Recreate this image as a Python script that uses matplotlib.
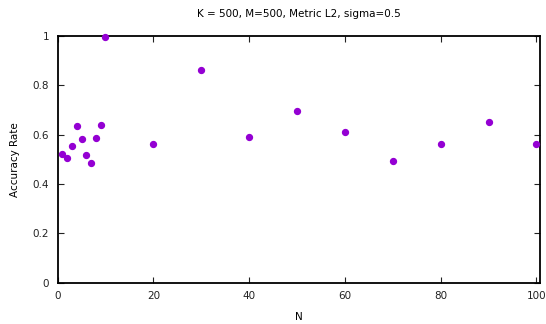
import matplotlib
matplotlib.use("Agg")
import matplotlib.pyplot as plt
import numpy as np

# data
n_values = [1, 2, 3, 4, 5, 6, 7, 8, 9, 10, 20, 30, 40, 50, 60, 70, 80, 90, 100]
accuracy = [0.522, 0.506, 0.553, 0.636, 0.583, 0.518, 0.484, 0.587, 0.640, 0.996,
            0.563, 0.862, 0.591, 0.696, 0.611, 0.494, 0.563, 0.652, 0.563]
x_ticks = [0, 20, 40, 60, 80, 100]
y_ticks = [0, 0.2, 0.4, 0.6, 0.8, 1]
y_labels = ["0", "0.2", "0.4", "0.6", "0.8", "1"]

fig = plt.figure(figsize=(5.46, 3.24), dpi=100)
ax = fig.add_axes([0.1055, 0.127, 0.884, 0.762])

ax.scatter(n_values, accuracy, s=18, color="#9400d3", zorder=3, clip_on=False)

ax.set_xlim(0, 100.8)
ax.set_ylim(0, 1)
ax.set_xticks(x_ticks)
ax.set_yticks(y_ticks)
ax.set_yticklabels(y_labels)
ax.tick_params(direction="in", top=True, right=True, length=4, width=0.8,
               labelsize=7.5, colors="#222222", pad=6)
for s in ax.spines.values():
    s.set_linewidth(1.3)

ax.set_title("K = 500, M=500, Metric L2, sigma=0.5", fontsize=7.5, pad=14)
ax.set_xlabel("N", fontsize=7.5, labelpad=8)
ax.set_ylabel("Accuracy Rate", fontsize=7.5, labelpad=9)

fig.savefig("out.png", dpi=100)
